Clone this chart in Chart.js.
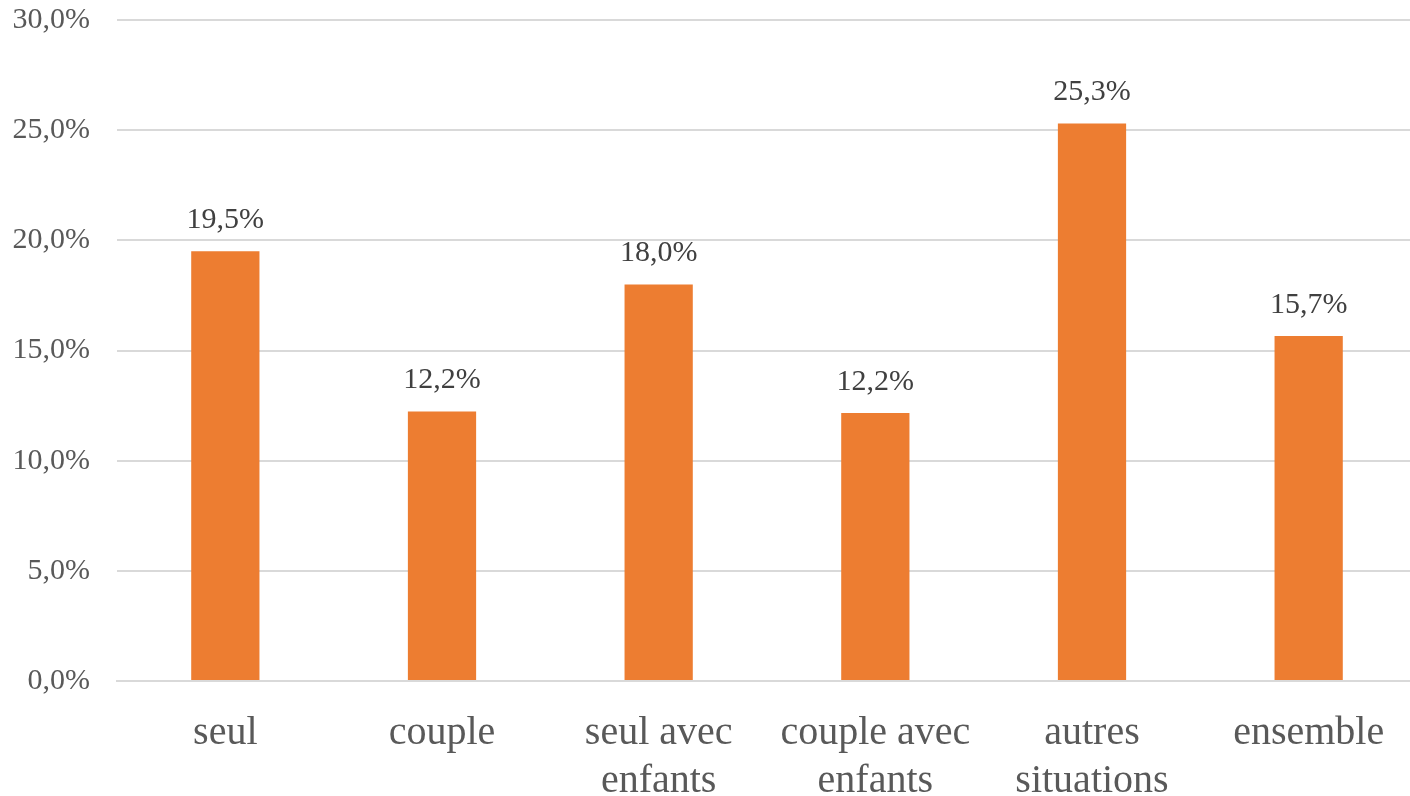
<!DOCTYPE html>
<html><head><meta charset="utf-8">
<script src="https://cdn.jsdelivr.net/npm/chart.js@4"></script>
<style>html,body{margin:0;padding:0;background:#fff;overflow:hidden}#wrap{width:1410px;height:796px;overflow:hidden}</style>
</head><body><div id="wrap"><canvas id="c" width="1417" height="796"></canvas></div>
<script>
const categories = [["seul"], ["couple"], ["seul avec", "enfants"], ["couple avec", "enfants"], ["autres", "situations"], ["ensemble"]];
const values = [19.5, 12.23, 18.0, 12.16, 25.3, 15.66];
const yTicks = [0, 5, 10, 15, 20, 25, 30];

const fmt = v => v.toFixed(1).replace('.', ',') + '%';
const FONT = '"Liberation Serif", "DejaVu Serif", serif';

const labelPlugin = {
  id: 'barLabels',
  afterDatasetsDraw(chart) {
    const ctx = chart.ctx;
    const meta = chart.getDatasetMeta(0);
    ctx.save();
    ctx.font = '30px ' + FONT;
    ctx.fillStyle = '#404040';
    ctx.textAlign = 'center';
    ctx.textBaseline = 'middle';
    meta.data.forEach((bar, i) => {
      ctx.fillText(fmt(values[i]), bar.x, bar.y - 31);
    });
    ctx.restore();
  }
};

new Chart(document.getElementById('c'), {
  type: 'bar',
  data: {
    labels: categories,
    datasets: [{
      data: values,
      backgroundColor: '#ED7D31',
      borderWidth: 0,
      barPercentage: 0.63,
      categoryPercentage: 0.5
    }]
  },
  options: {
    responsive: false,
    animation: false,
    layout: { padding: { top: 20, right: 0, left: 0, bottom: 0 } },
    plugins: { legend: { display: false }, tooltip: { enabled: false } },
    scales: {
      x: {
        grid: { display: false, drawTicks: false },
        border: { color: '#d9d9d9', width: 2 },
        ticks: { color: '#595959', font: { family: FONT, size: 40, lineHeight: 1.2 }, padding: 28, maxRotation: 0, autoSkip: false },
        afterFit(s) { s.height = 115; s.paddingLeft = 0; s.paddingRight = 0; }
      },
      y: {
        min: 0, max: 30,
        afterBuildTicks(s) { s.ticks = yTicks.map(v => ({ value: v })); },
        grid: { color: '#d9d9d9', lineWidth: 2, drawTicks: false },
        border: { display: false },
        ticks: { color: '#595959', font: { family: FONT, size: 30 }, padding: 27, callback: v => fmt(v) },
        afterFit(s) { s.width = 117; s.paddingTop = 0; s.paddingBottom = 0; }
      }
    }
  },
  plugins: [labelPlugin]
});
</script></body></html>
